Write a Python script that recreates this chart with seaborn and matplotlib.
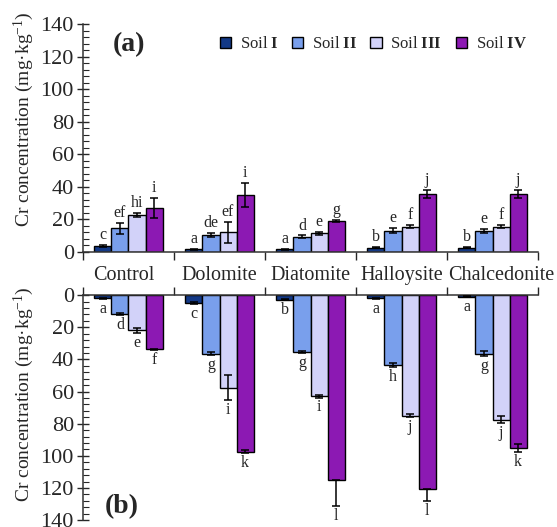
import numpy as np
import pandas as pd
import matplotlib
matplotlib.use("Agg")
import matplotlib.pyplot as plt
import matplotlib.transforms as mtransforms
import seaborn as sns
from matplotlib.ticker import MultipleLocator

# data
amendments = ["Control", "Dolomite", "Diatomite", "Halloysite", "Chalcedonite"]
soils = ["Soil $\\mathbf{I}$", "Soil $\\mathbf{II}$", "Soil $\\mathbf{III}$", "Soil $\\mathbf{IV}$"]

# (a) values and errors, one list per soil, in amendment order
a_soil1 = [3.8, 1.5, 1.5, 2.5, 2.5]
a_soil2 = [14.5, 10.4, 9.4, 13.0, 13.0]
a_soil3 = [22.7, 12.0, 11.5, 15.5, 15.5]
a_soil4 = [27.0, 35.0, 19.0, 35.5, 35.5]
a_err1 = [0.5, 0.3, 0.3, 0.3, 0.3]
a_err2 = [3.5, 1.3, 0.7, 1.5, 1.3]
a_err3 = [1.0, 6.5, 1.0, 1.0, 1.0]
a_err4 = [6.4, 7.5, 0.7, 2.5, 2.5]
a_letters1 = ["c", "a", "a", "b", "b"]
a_letters2 = ["ef", "de", "d", "e", "e"]
a_letters3 = ["hi", "ef", "e", "f", "f"]
a_letters4 = ["i", "i", "g", "j", "j"]

# (b) values and errors (outer part; inner part hidden for the longest bars)
b_soil1 = [2.0, 5.0, 3.0, 2.0, 1.0]
b_soil2 = [11.8, 36.5, 35.5, 43.5, 36.5]
b_soil3 = [21.8, 57.5, 63.0, 75.0, 77.5]
b_soil4 = [33.8, 97.5, 115.0, 120.5, 95.0]
b_err1 = [0.3, 0.5, 0.3, 0.3, 0.3]
b_err2 = [0.5, 1.0, 0.7, 1.5, 1.5]
b_err3 = [1.5, 7.5, 0.7, 1.0, 2.0]
b_err4 = [0.5, 1.0, 16.0, 7.5, 2.5]
b_err4_inner = [0.5, 1.0, 0.0, 0.0, 2.5]
b_letters1 = ["a", "c", "b", "a", "a"]
b_letters2 = ["d", "g", "g", "h", "g"]
b_letters3 = ["e", "i", "i", "j", "j"]
b_letters4 = ["f", "k", "l", "l", "k"]

colors = ["#003399", "#6699FF", "#CCCCFF", "#9900CC"]

sns.set_style("ticks")
plt.rcParams["font.family"] = ["Liberation Serif", "DejaVu Serif"]
plt.rcParams["mathtext.fontset"] = "custom"
plt.rcParams["mathtext.rm"] = "Liberation Serif"
plt.rcParams["mathtext.it"] = "Liberation Serif:italic"
plt.rcParams["mathtext.bf"] = "Liberation Serif:bold"


def long_table(vals):
    rows = []
    for s, v in zip(soils, vals):
        for amd, x in zip(amendments, v):
            rows.append({"Amendment": amd, "Soil": s, "Cr": x})
    return pd.DataFrame(rows)


df_a = long_table([a_soil1, a_soil2, a_soil3, a_soil4])
df_b = long_table([b_soil1, b_soil2, b_soil3, b_soil4])
errs_a = [(e, e) for e in [a_err1, a_err2, a_err3, a_err4]]
errs_b = [(b_err1, b_err1), (b_err2, b_err2), (b_err3, b_err3), (b_err4_inner, b_err4)]
lets_a = [a_letters1, a_letters2, a_letters3, a_letters4]
lets_b = [b_letters1, b_letters2, b_letters3, b_letters4]

fig = plt.figure(figsize=(5.57, 5.27), dpi=100)
ax1 = fig.add_axes([0.149, 0.522, 0.817, 0.432])
ax2 = fig.add_axes([0.149, 0.013, 0.817, 0.427])

ylab = "Cr concentration (mg·kg$^{\\mathregular{-1}}$)"

for ax, df, errs, lets, top in [(ax1, df_a, errs_a, lets_a, True), (ax2, df_b, errs_b, lets_b, False)]:
    sns.barplot(data=df, x="Amendment", y="Cr", hue="Soil", palette=colors,
                width=0.75, edgecolor="black", linewidth=1.0, errorbar=None,
                legend=top, ax=ax)
    for cont, (lo, hi), let in zip(ax.containers, errs, lets):
        xs = [p.get_x() + p.get_width() / 2 for p in cont]
        hs = [p.get_height() for p in cont]
        ax.errorbar(xs, hs, yerr=[lo, hi], fmt="none", ecolor="black",
                    elinewidth=1.1, capsize=3, capthick=1.1, zorder=5)
        for x, h, e, t in zip(xs, hs, hi, let):
            ax.text(x, h + e + 1.2, t, ha="center",
                    va="bottom" if top else "top", fontsize=11.5)

    ax.set_ylim(0, 140)
    ax.set_xlim(-0.5, 4.5)
    ax.yaxis.set_major_locator(MultipleLocator(20))
    ax.yaxis.set_minor_locator(MultipleLocator(4))
    ax.tick_params(axis="y", which="major", direction="inout", length=9,
                   width=1.0, labelsize=16, pad=2)
    ax.tick_params(axis="y", which="minor", direction="in", length=4, width=0.8)
    ax.set_xticks(np.arange(-0.5, 4.6, 1.0), minor=True)
    ax.tick_params(axis="x", which="major", length=0, labelsize=14.5)
    ax.tick_params(axis="x", which="minor", direction="out", length=6, width=1.0)
    ax.set_xlabel("")
    ax.set_ylabel(ylab, fontsize=14)
    ax.spines["right"].set_visible(False)
    for sp in ax.spines.values():
        sp.set_linewidth(1.1)
        sp.set_color("#333333")

sns.despine(ax=ax1)
ax1.tick_params(axis="x", which="major", pad=10)
ax1.yaxis.set_label_coords(-0.103, 0.583)
ax2.yaxis.set_label_coords(-0.103, 0.56)

# nudge first and last category labels like the original
shifts = {0: -5, 4: 9}
for i, lab in enumerate(ax1.get_xticklabels()):
    if i in shifts:
        off = mtransforms.ScaledTranslation(shifts[i] / 100, 0, fig.dpi_scale_trans)
        lab.set_transform(lab.get_transform() + off)

ax1.text(0.065, 0.91, "(a)", transform=ax1.transAxes, fontsize=20,
         fontweight="bold", va="center")
leg = ax1.legend(loc="center right", bbox_to_anchor=(0.99, 0.912), ncol=4,
                 frameon=False, fontsize=12, handlelength=0.7, handleheight=0.7,
                 handletextpad=0.5, columnspacing=0.8, borderaxespad=0)
for h in leg.legend_handles:
    h.set_edgecolor("black")
    h.set_linewidth(1.0)

ax2.invert_yaxis()
ax2.xaxis.tick_top()
ax2.set_xticklabels([])
ax2.spines["bottom"].set_visible(False)
ax2.text(0.048, 0.06, "(b)", transform=ax2.transAxes, fontsize=20,
         fontweight="bold", va="center")

fig.savefig("out.png", dpi=100)
